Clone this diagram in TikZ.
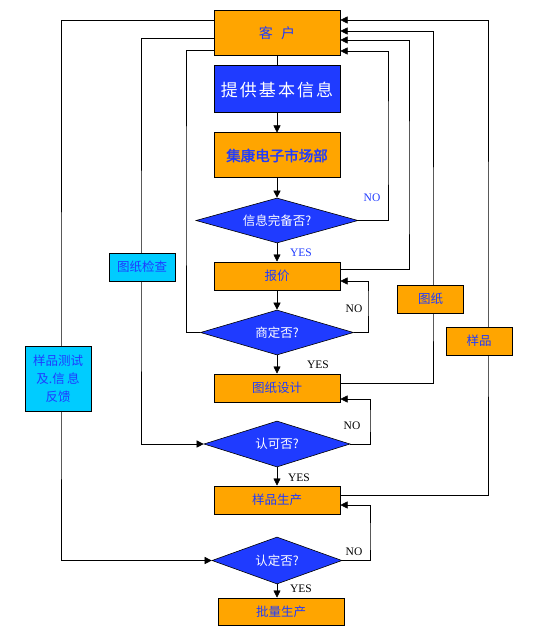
\documentclass[tikz,border=0pt]{standalone}
\usepackage{fontspec}
\setmainfont{Liberation Serif}
\newfontfamily\cjk{Noto Sans CJK SC}
\newfontfamily\cjkb{Noto Sans CJK SC}[FakeBold=2]
\newfontfamily\cjkwide{Noto Sans CJK SC}[LetterSpace=12]
\usetikzlibrary{shapes.geometric, arrows.meta, backgrounds}
\definecolor{boxorange}{HTML}{FFA500}
\definecolor{boxblue}{HTML}{1F3BFF}
\definecolor{boxcyan}{HTML}{00CCFF}
\definecolor{textblue}{HTML}{1F3BFF}
\tikzset{
	box/.style={draw, line width=1pt, fill=boxorange, text=textblue, inner sep=0pt, minimum width=126pt, font=\cjk\fontsize{12.5}{14}\selectfont},
	sidebox/.style={box, minimum width=66pt, minimum height=28pt},
	query/.style={diamond, draw, line width=0.6pt, fill=boxblue, text=white, inner sep=0pt, font=\cjk\fontsize{12.5}{14}\selectfont},
	arr/.style={-{Triangle[length=7pt,width=7pt]}},
	lab/.style={font=\fontsize{11.5}{12}\selectfont}
}
\begin{document}
\begin{tikzpicture}[x=1pt, y=-1pt, line width=0.8pt]
				\useasboundingbox (0,0) rectangle (548,636);
				%main column
				\node (kehu) at (277,33.5) [box, minimum height=45pt, font=\cjk\fontsize{14}{15}\selectfont]{客\hspace{0.6em}户};
				\node (tigong) at (277,89.5) [box, fill=boxblue, text=white, minimum height=47pt, font=\cjkwide\fontsize{17}{20}\selectfont]{提供基本信息};
				\node (jikang) at (277,155.5) [box, minimum height=45pt, font=\cjkb\fontsize{14.5}{16}\selectfont]{集康电子市场部};
				\node (wanbei) at (277,220.5) [query, minimum width=162pt, minimum height=45pt, aspect=3.6]{信息完备否?};
				\node (baojia) at (277,276) [box, minimum height=28pt]{报价};
				\node (shangding) at (277,332.5) [query, minimum width=153pt, minimum height=45pt, aspect=3.4]{商定否?};
				\node (sheji) at (277,388) [box, minimum height=28pt]{图纸设计};
				\node (renke) at (277,444) [query, minimum width=146pt, minimum height=46pt, aspect=3.2]{认可否?};
				\node (yangpin) at (277,500) [box, minimum height=28pt]{样品生产};
				\node (rending) at (277,560.5) [query, minimum width=130pt, minimum height=47pt, aspect=2.8]{认定否?};
				\node (piliang) at (281,611.5) [box, minimum height=27pt]{批量生产};
				
				%side boxes
				\node (jiancha) at (142,267) [sidebox, fill=boxcyan]{图纸检查};
				\node (fankui) at (58,378.5) [sidebox, fill=boxcyan, minimum height=65pt, align=center]{样品测试\\[4pt]及.信\,息\\[4pt]反馈};
				\node (tuzhi) at (430.5,299) [sidebox]{图纸};
				\node (yangpinR) at (479,341) [sidebox]{样品};
				
				\begin{scope}[on background layer]
					%main flow
					\draw (kehu) -- (tigong);
					\draw[arr] (tigong) -- (jikang);
					\draw[arr] (jikang) -- (wanbei);
					\draw[arr] (wanbei) -- (baojia);
					\draw[arr] (baojia) -- (shangding);
					\draw[arr] (shangding) -- (sheji);
					\draw[arr] (renke) -- (yangpin);
					\draw[arr] (rending.south) -- (rending.south |- piliang.north);
					
					%left lines
					\draw[arr] (kehu.west |- 0,20) -| (61,400) |- (rending.west);
					\draw[arr] (kehu.west |- 0,38) -| (141,300) |- (renke.west);
					\draw (shangding.west) -| (186,200) |- (kehu.west |- 0,50);
					
					%right lines
					\draw[arr] (yangpin.east |- 0,495) -| (488,300) |- (kehu.east |- 0,20);
					\draw[arr] (sheji.east |- 0,383) -| (433,300) |- (kehu.east |- 0,31);
					\draw[arr] (baojia.east |- 0,269) -| (409,200) |- (kehu.east |- 0,40);
					\draw[arr] (wanbei.east) -| (388,150) |- (kehu.east |- 0,51);
					
					%NO loops
					\draw[arr] (shangding.east) -| (368,300) |- (baojia.east |- 0,281);
					\draw[arr] (renke.east) -| (370,420) |- (sheji.east |- 0,399);
					\draw[arr] (rending.east) -| (370,540) |- (yangpin.east |- 0,505);
				\end{scope}
				
				%labels
				\node (no1) at (372,198) [lab, text=textblue]{NO};
				\node (yes1) at (301,253) [lab, text=textblue]{YES};
				\node (no2) at (354,309) [lab]{NO};
				\node (yes2) at (318,365) [lab]{YES};
				\node (no3) at (352,426) [lab]{NO};
				\node (yes3) at (299,478) [lab]{YES};
				\node (no4) at (354,552) [lab]{NO};
				\node (yes4) at (301,589) [lab]{YES};
\end{tikzpicture}
\end{document}
